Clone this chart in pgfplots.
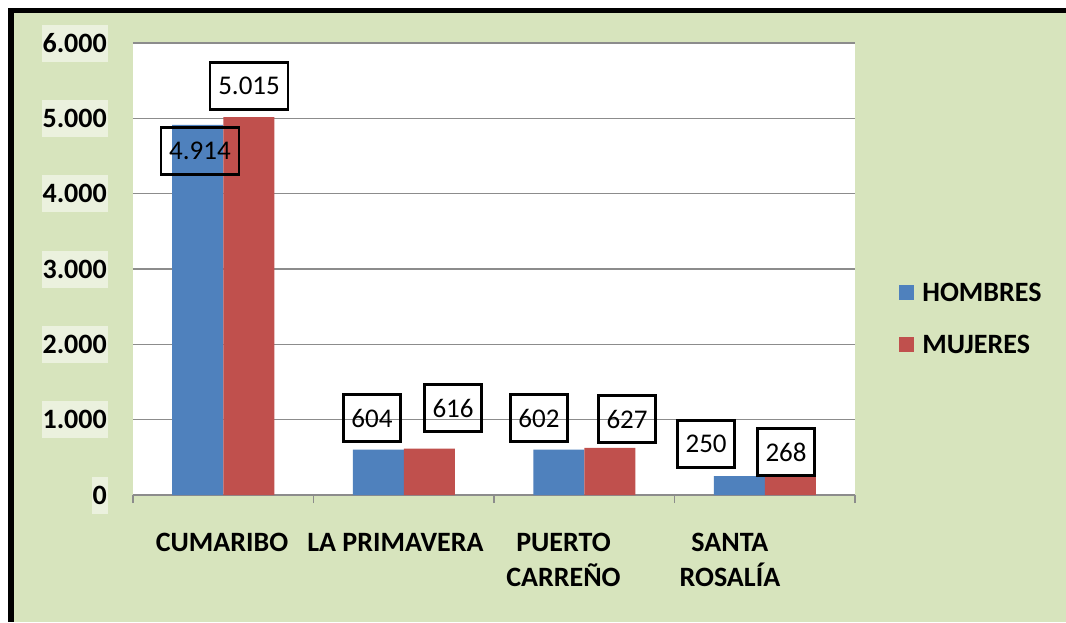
\documentclass[border=0pt]{standalone}
\usepackage{pgfplots}
\pgfplotsset{compat=1.18}
\usepackage{fontspec}
\setmainfont{Carlito}
\definecolor{bg}{HTML}{D7E4BD}
\definecolor{tickbg}{HTML}{EBF1DE}
\definecolor{cblue}{HTML}{4F81BD}
\definecolor{cred}{HTML}{C0504D}
\definecolor{gridgray}{HTML}{8C8C8C}
\tikzset{lbl/.style={draw=black, line width=2.4pt, fill=none, font=\fontsize{27}{30}\selectfont, inner xsep=8pt, inner ysep=0pt, minimum height=47pt}}
\begin{document}
\begin{tikzpicture}[x=1pt,y=1pt]
\path[use as bounding box] (0,0) rectangle (1066,-622);
\fill[bg] (8,-8) rectangle (1066,-622);
\fill[black] (8,-8) rectangle (14,-622);
\fill[black] (8,-8) rectangle (1066,-13);
\begin{axis}[
  at={(133pt,-495pt)}, anchor=south west,
  scale only axis, width=722pt, height=452pt,
  xmin=-0.5, xmax=3.5, ymin=0, ymax=6000,
  clip=false,
  ytick={0,1000,2000,3000,4000,5000,6000},
  ybar=0pt, bar width=51pt,
  ymajorgrids, grid style={gridgray, line width=1.3pt},
  axis background/.style={fill=white},
  axis x line*=bottom, axis y line*=left,
  x axis line style={gridgray, line width=1.5pt, -},
  y axis line style={draw=none},
  xtick={-0.007,0.954,1.885,2.807},
  xticklabels={CUMARIBO, LA PRIMAVERA, {PUERTO\\CARREÑO}, {SANTA\\ROSALÍA}},
  major tick length=0pt,
  minor xtick={-0.5,0.5,1.5,2.5,3.5},
  minor tick length=8pt,
  tick align=outside,
  minor x tick style={gridgray, line width=1.3pt},
  /pgf/number format/assume math mode=true,
  /pgf/number format/1000 sep={.},
  yticklabel style={font=\fontsize{28}{30}\selectfont\bfseries, fill=tickbg, inner xsep=1pt, inner ysep=0pt, minimum height=37pt, anchor=east, xshift=-25pt},
  xticklabel style={font=\fontsize{28}{35}\selectfont\bfseries, align=center, anchor=north, inner sep=0pt, yshift=-38pt},
  legend style={at={(1.057,0.39)}, anchor=west, draw=none, fill=none, font=\fontsize{28}{30}\selectfont\bfseries, row sep=28pt},
  legend cell align=left,
]
\addplot[fill=cblue, draw=none, legend image code/.code={\fill[cblue] (0pt,-7.5pt) rectangle (15pt,7.5pt); \path (21pt,0pt);}] coordinates {(0,4914) (1,604) (2,602) (3,250)};
\addplot[fill=cred, draw=none, legend image code/.code={\fill[cred] (0pt,-7.5pt) rectangle (15pt,7.5pt); \path (21pt,0pt);}] coordinates {(0,5015) (1,616) (2,627) (3,268)};
\legend{HOMBRES, MUJERES}
\node[lbl] at (axis cs:-0.129,4567) {4.914};
\node[lbl] at (axis cs:0.143,5430) {5.015};
\node[lbl] at (axis cs:0.824,1022) {604};
\node[lbl] at (axis cs:1.273,1155) {616};
\node[lbl] at (axis cs:1.749,1022) {602};
\node[lbl] at (axis cs:2.237,1009) {627};
\node[lbl] at (axis cs:2.675,677) {250};
\node[lbl] at (axis cs:3.118,571) {268};
\end{axis}
\end{tikzpicture}
\end{document}
